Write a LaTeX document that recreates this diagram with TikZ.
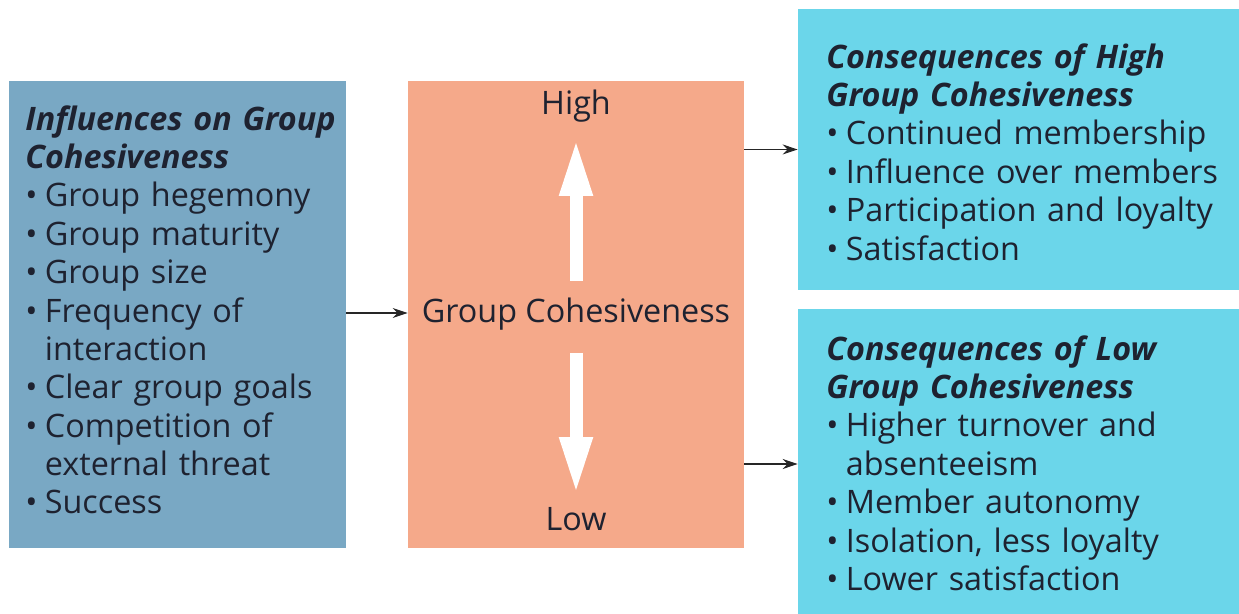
\documentclass[tikz,border=0pt]{standalone}
\usepackage{fontspec}
\setmainfont{Open Sans}
\usetikzlibrary{arrows.meta,positioning}
\definecolor{infblue}{HTML}{79A8C4}
\definecolor{cohsalmon}{HTML}{F5A98A}
\definecolor{conscyan}{HTML}{6BD6EA}
\definecolor{inktext}{HTML}{1E2230}
\setlength{\parindent}{0pt}
\newcommand{\itm}[1]{\par\sbox0{•\kern4.2pt}\hangindent=\wd0\hangafter=1 \usebox0#1}
\newcommand{\brk}{\hfil\break}
\tikzset{
  boxnode/.style={inner sep=0pt, draw=none},
  listtext/.style={inner sep=0pt, anchor=north west, align=left, text=inktext,
    font=\fontsize{18.4}{21.85}\selectfont},
  midtext/.style={inner sep=0pt, anchor=base, text=inktext,
    font=\fontsize{18.4}{21.85}\selectfont},
  linkarrow/.style={line width=0.6pt, draw=black!85, -{Stealth[length=0.3cm,width=0.2cm]}},
  bigarrow/.style={white, line width=0.26cm, -{Triangle[length=1.16cm,width=0.6cm]}}
}
\begin{document}
\begin{tikzpicture}[x=0.02cm,y=-0.02cm]
\useasboundingbox (0,0) rectangle (1239,614);
% boxes
\node[boxnode, fill=infblue, minimum width=6.74cm, minimum height=9.34cm] (inf) at (177.5,314.5) {};
\node[boxnode, fill=cohsalmon, minimum width=6.72cm, minimum height=9.34cm] (coh) at (576,314.5) {};
\node[boxnode, fill=conscyan, minimum width=8.84cm, minimum height=5.62cm] (hicons) at (1019,149.5) {};
\node[boxnode, fill=conscyan, minimum width=8.84cm, minimum height=6.12cm] (locons) at (1019,461.5) {};
% texts
\node[listtext, text width=7cm] (inftext) at (25,105) {%
  \textbf{\textit{Influences on Group\\Cohesiveness}}
  \itm{Group hegemony}
  \itm{Group maturity}
  \itm{Group size}
  \itm{Frequency of\brk interaction}
  \itm{Clear group goals}
  \itm{Competition of\brk external threat}
  \itm{Success}};
\node[listtext, text width=8.5cm] (hitext) at (826,43) {%
  \textbf{\textit{Consequences of High\\Group Cohesiveness}}
  \itm{Continued membership}
  \itm{Influence over members}
  \itm{Participation and loyalty}
  \itm{Satisfaction}};
\node[listtext, text width=8.5cm] (lotext) at (826,335) {%
  \textbf{\textit{Consequences of Low\\Group Cohesiveness}}
  \itm{Higher turnover and\brk absenteeism}
  \itm{Member autonomy}
  \itm{Isolation, less loyalty}
  \itm{Lower satisfaction}};
\node[midtext] (high) at (576,115) {High};
\node[midtext] (cohlabel) at (576,323) {Group Cohesiveness};
\node[midtext] (low) at (576,530) {Low};
% white arrows
\coordinate (upstart) at (576,281);
\coordinate (uptip) at (576,138);
\coordinate (downstart) at (576,353);
\coordinate (downtip) at (576,495);
\draw[bigarrow] (upstart) -- (uptip);
\draw[bigarrow] (downstart) -- (downtip);
% connectors
\draw[linkarrow] (inf.east |- 0,313) -- (coh.west |- 0,313);
\draw[linkarrow] (coh.east |- hicons.west) -- (hicons.west);
\draw[linkarrow] (coh.east |- 0,464) -- (locons.west |- 0,464);
\end{tikzpicture}
\end{document}
